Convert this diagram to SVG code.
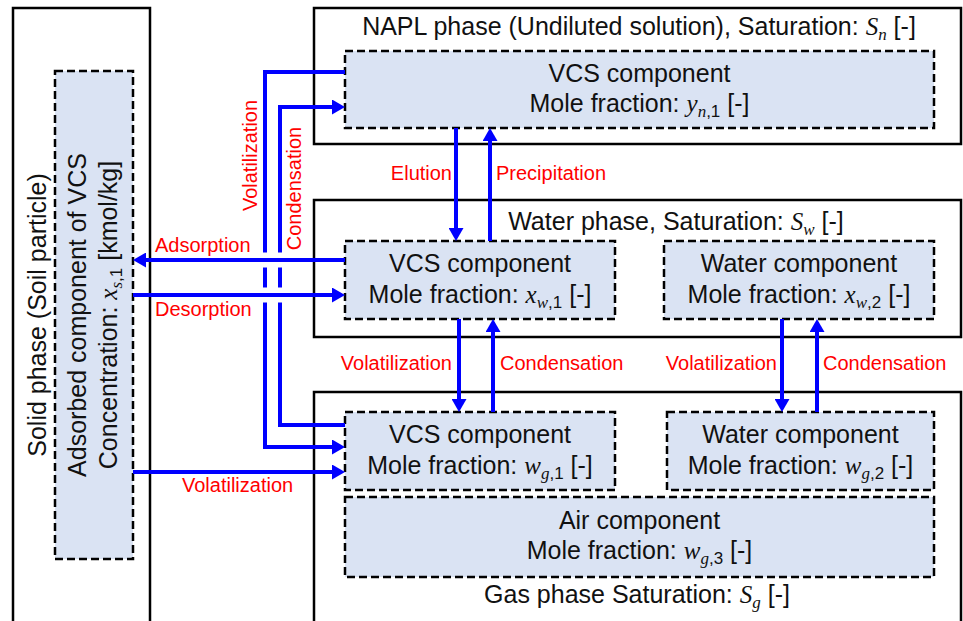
<svg xmlns="http://www.w3.org/2000/svg" width="963" height="621" viewBox="0 0 963 621">
  <style>
    .frame { fill: none; stroke: #000; stroke-width: 2.5; }
    .comp { fill: #dae3f3; stroke: #000; stroke-width: 2.5; stroke-dasharray: 8 4; }
    .t { font-family: "Liberation Sans", Arial, sans-serif; font-size: 25px; fill: #111; }
    .m { font-family: "Liberation Serif", "Times New Roman", serif; font-style: italic; }
    .sub { font-size: 17px; }
    .lbl { font-family: "Liberation Sans", Arial, sans-serif; font-size: 20px; fill: #ff0000; }
    .flow { fill: none; stroke: #0000ff; stroke-width: 4; }
    .arr { marker-end: url(#head); }
  </style>
  <defs>
    <marker id="head" viewBox="0 0 13 15" refX="3" refY="7.5" markerWidth="13" markerHeight="15" markerUnits="userSpaceOnUse" orient="auto">
      <path d="M0,0 L13,7.5 L0,15 z" fill="#0000ff"/>
    </marker>
  </defs>
  <rect width="963" height="621" fill="#fff"/>

  <!-- solid phase -->
  <g id="solid-phase">
    <rect class="frame" x="13" y="8" width="137" height="625"/>
    <text class="t" transform="translate(46,315) rotate(-90)" text-anchor="middle">Solid phase (Soil particle)</text>
  </g>
  <g id="adsorbed-vcs">
    <rect class="comp" x="55" y="71" width="78" height="488"/>
    <text class="t" transform="translate(86,315) rotate(-90)" text-anchor="middle">Adsorbed component of VCS</text>
    <text class="t" transform="translate(117,315) rotate(-90)" text-anchor="middle">Concentration: <tspan class="m">x</tspan><tspan class="sub" dy="5"><tspan class="m">s</tspan>,1</tspan><tspan dy="-5"> [kmol/kg]</tspan></text>
  </g>

  <!-- NAPL phase -->
  <g id="napl-phase">
    <rect class="frame" x="314" y="8" width="647" height="136"/>
    <text class="t" x="639" y="35" text-anchor="middle">NAPL phase (Undiluted solution), Saturation: <tspan class="m">S</tspan><tspan class="sub m" dy="5">n</tspan><tspan dy="-5"> [-]</tspan></text>
  </g>
  <g id="napl-vcs">
    <rect class="comp" x="345" y="51" width="589" height="77"/>
    <text class="t" x="639.5" y="82" text-anchor="middle">VCS component</text>
    <text class="t" x="639.5" y="112" text-anchor="middle">Mole fraction: <tspan class="m">y</tspan><tspan class="sub" dy="5"><tspan class="m">n</tspan>,1</tspan><tspan dy="-5"> [-]</tspan></text>
  </g>

  <!-- water phase -->
  <g id="water-phase">
    <rect class="frame" x="314" y="200" width="647" height="137"/>
    <text class="t" x="676" y="230" text-anchor="middle">Water phase, Saturation: <tspan class="m">S</tspan><tspan class="sub m" dy="5">w</tspan><tspan dy="-5"> [-]</tspan></text>
  </g>
  <g id="water-vcs">
    <rect class="comp" x="345" y="241" width="270" height="78"/>
    <text class="t" x="480" y="272" text-anchor="middle">VCS component</text>
    <text class="t" x="480" y="303" text-anchor="middle">Mole fraction: <tspan class="m">x</tspan><tspan class="sub" dy="5"><tspan class="m">w</tspan>,1</tspan><tspan dy="-5"> [-]</tspan></text>
  </g>
  <g id="water-water">
    <rect class="comp" x="664" y="241" width="270" height="78"/>
    <text class="t" x="799" y="272" text-anchor="middle">Water component</text>
    <text class="t" x="799" y="303" text-anchor="middle">Mole fraction: <tspan class="m">x</tspan><tspan class="sub" dy="5"><tspan class="m">w</tspan>,2</tspan><tspan dy="-5"> [-]</tspan></text>
  </g>

  <!-- gas phase -->
  <g id="gas-phase">
    <rect class="frame" x="314" y="392" width="647" height="240"/>
    <text class="t" x="637" y="603" text-anchor="middle">Gas phase Saturation: <tspan class="m">S</tspan><tspan class="sub m" dy="5">g</tspan><tspan dy="-5"> [-]</tspan></text>
  </g>
  <g id="gas-vcs">
    <rect class="comp" x="345" y="412" width="270" height="78"/>
    <text class="t" x="480" y="443" text-anchor="middle">VCS component</text>
    <text class="t" x="480" y="474" text-anchor="middle">Mole fraction: <tspan class="m">w</tspan><tspan class="sub" dy="5"><tspan class="m">g</tspan>,1</tspan><tspan dy="-5"> [-]</tspan></text>
  </g>
  <g id="gas-water">
    <rect class="comp" x="667" y="412" width="267" height="78"/>
    <text class="t" x="800.5" y="443" text-anchor="middle">Water component</text>
    <text class="t" x="800.5" y="474" text-anchor="middle">Mole fraction: <tspan class="m">w</tspan><tspan class="sub" dy="5"><tspan class="m">g</tspan>,2</tspan><tspan dy="-5"> [-]</tspan></text>
  </g>
  <g id="gas-air">
    <rect class="comp" x="345" y="497" width="589" height="80"/>
    <text class="t" x="639.5" y="529" text-anchor="middle">Air component</text>
    <text class="t" x="639.5" y="559" text-anchor="middle">Mole fraction: <tspan class="m">w</tspan><tspan class="sub" dy="5"><tspan class="m">g</tspan>,3</tspan><tspan dy="-5"> [-]</tspan></text>
  </g>

  <!-- transfer paths -->
  <g id="connectors">
    <!-- NAPL to gas (volatilization), broken where it crosses the sorption lines -->
    <path class="flow" d="M345,72 H265 V252.5"/>
    <path class="flow" d="M265,267.5 V287.5"/>
    <path class="flow arr" d="M265,302.5 V447 H335"/>
    <!-- gas to NAPL (condensation) -->
    <path class="flow" d="M345,425 H280 V302.5"/>
    <path class="flow" d="M280,287.5 V267.5"/>
    <path class="flow arr" d="M280,252.5 V107 H335"/>
    <!-- sorption -->
    <path class="flow arr" d="M345,260 H143"/>
    <path class="flow arr" d="M133,295 H335"/>
    <path class="flow arr" d="M133,472 H335"/>
    <!-- NAPL / water -->
    <path class="flow arr" d="M456,128 V231"/>
    <path class="flow arr" d="M490,241 V138"/>
    <!-- water / gas -->
    <path class="flow arr" d="M459,319 V402"/>
    <path class="flow arr" d="M493,412 V329"/>
    <path class="flow arr" d="M782,319 V402"/>
    <path class="flow arr" d="M817,412 V329"/>

    <text class="lbl" transform="translate(257,155.5) rotate(-90)" text-anchor="middle">Volatilization</text>
    <text class="lbl" transform="translate(301,188.5) rotate(-90)" text-anchor="middle">Condensation</text>
    <text class="lbl" x="155" y="252">Adsorption</text>
    <text class="lbl" x="155" y="316">Desorption</text>
    <text class="lbl" x="182" y="492">Volatilization</text>
    <text class="lbl" x="452" y="180" text-anchor="end">Elution</text>
    <text class="lbl" x="496" y="180">Precipitation</text>
    <text class="lbl" x="452" y="370" text-anchor="end">Volatilization</text>
    <text class="lbl" x="500" y="370">Condensation</text>
    <text class="lbl" x="777" y="370" text-anchor="end">Volatilization</text>
    <text class="lbl" x="823" y="370">Condensation</text>
  </g>
</svg>
